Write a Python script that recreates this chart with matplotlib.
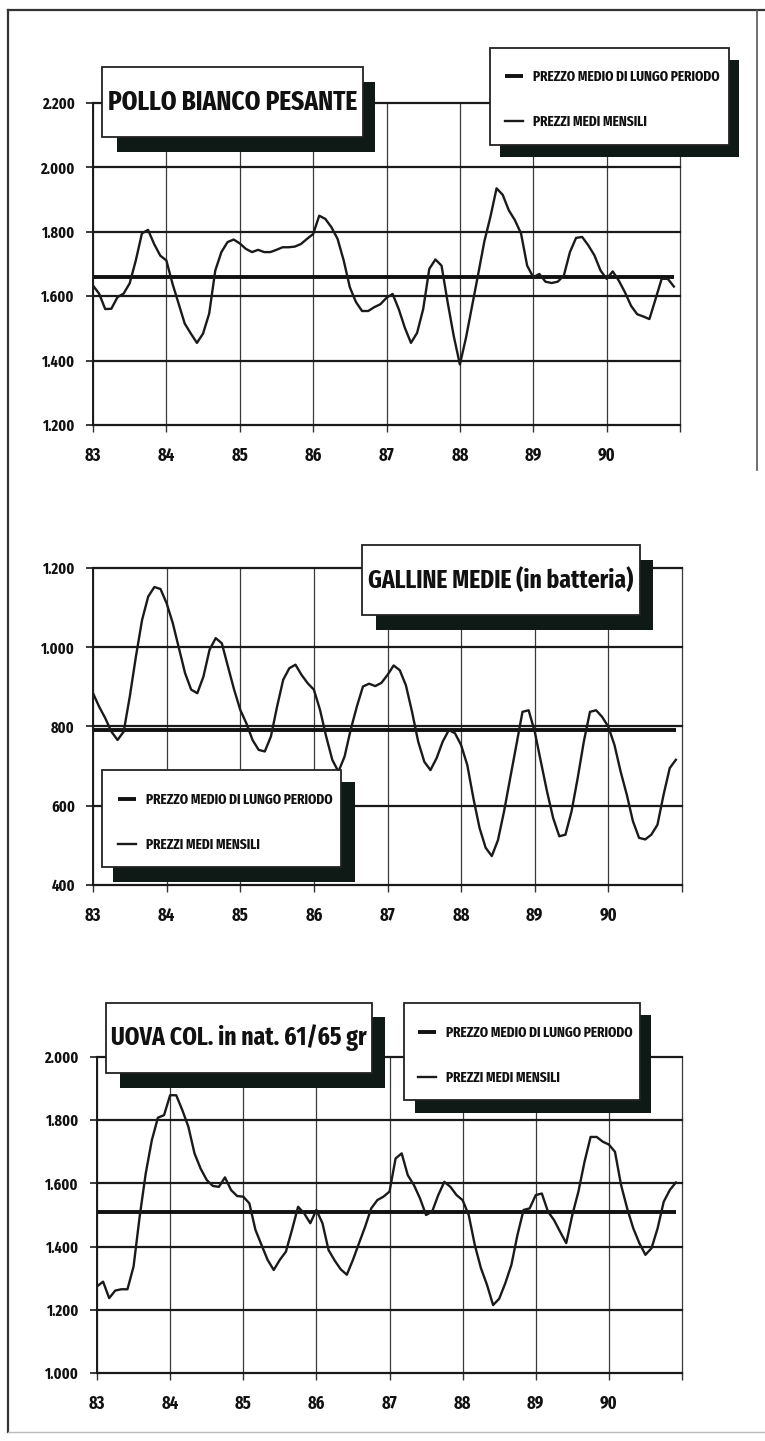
import numpy as np
import matplotlib.pyplot as plt
from matplotlib.patches import Rectangle
from matplotlib.transforms import ScaledTranslation

W, H = 765, 1441
FONT = ['Fira Sans Extra Condensed', 'Barlow Condensed', 'DejaVu Sans']

# monthly prices jan 83 .. dec 90
months = np.arange(96)
x = 83 + months / 12.0
year_ticks = [83, 84, 85, 86, 87, 88, 89, 90, 91]
year_labels = ['83', '84', '85', '86', '87', '88', '89', '90', '']

legend_labels = ['PREZZO MEDIO DI LUNGO PERIODO', 'PREZZI MEDI MENSILI']

pollo_title = 'POLLO BIANCO PESANTE'
pollo = [1633, 1608, 1560, 1561, 1597, 1608, 1640, 1711, 1795, 1806, 1762, 1726,
         1711, 1639, 1577, 1515, 1484, 1455, 1484, 1546, 1680, 1737, 1768, 1776,
         1764, 1747, 1737, 1744, 1737, 1737, 1744, 1752, 1752, 1754, 1762, 1778,
         1793, 1850, 1840, 1814, 1778, 1711, 1628, 1582, 1554, 1554, 1566, 1575,
         1595, 1607, 1560, 1502, 1455, 1486, 1560, 1685, 1714, 1695, 1581, 1476,
         1388, 1471, 1570, 1669, 1770, 1847, 1935, 1915, 1867, 1836, 1795, 1695,
         1659, 1669, 1645, 1641, 1645, 1664, 1737, 1781, 1784, 1758, 1727, 1680,
         1654, 1677, 1648, 1612, 1570, 1544, 1537, 1529, 1591, 1654, 1654, 1630]
pollo_medio = 1660
pollo_yticks = [1200, 1400, 1600, 1800, 2000, 2200]

galline_title = 'GALLINE MEDIE (in batteria)'
galline = [884, 850, 821, 787, 766, 787, 876, 977, 1069, 1128, 1152, 1147,
           1111, 1061, 998, 935, 893, 884, 926, 994, 1023, 1010, 951, 893,
           842, 808, 766, 741, 737, 775, 850, 918, 947, 956, 930, 909,
           893, 842, 775, 716, 686, 724, 792, 850, 901, 908, 902, 910,
           930, 954, 942, 904, 837, 762, 711, 690, 720, 762, 791, 783,
           753, 703, 619, 544, 494, 473, 513, 586, 670, 753, 837, 841,
           787, 711, 636, 569, 523, 527, 586, 670, 762, 837, 841, 824,
           799, 753, 686, 628, 561, 519, 515, 527, 552, 628, 695, 716]
galline_medio = 790
galline_yticks = [400, 600, 800, 1000, 1200]

uova_title = 'UOVA COL. in nat. 61/65 gr'
uova = [1274, 1289, 1237, 1261, 1265, 1265, 1337, 1495, 1632, 1737, 1808, 1816,
        1879, 1879, 1832, 1779, 1695, 1647, 1611, 1592, 1589, 1619, 1579, 1560,
        1558, 1537, 1453, 1405, 1358, 1326, 1358, 1384, 1453, 1526, 1505, 1474,
        1516, 1474, 1389, 1356, 1328, 1311, 1358, 1411, 1463, 1521, 1547, 1558,
        1574, 1679, 1695, 1626, 1595, 1553, 1500, 1511, 1563, 1605, 1589, 1563,
        1547, 1500, 1405, 1332, 1279, 1215, 1235, 1284, 1342, 1437, 1516, 1521,
        1563, 1568, 1511, 1484, 1447, 1411, 1500, 1574, 1668, 1747, 1747, 1732,
        1723, 1700, 1595, 1521, 1458, 1411, 1374, 1395, 1458, 1542, 1579, 1603]
uova_medio = 1510
uova_yticks = [1000, 1200, 1400, 1600, 1800, 2000]


def fx(px):
    return px / W


def fy(py):
    return 1 - py / H


def it_num(v):
    return f'{v:,}'.replace(',', '.')


def measure(text, size):
    t = fig.text(0, 0, text, family=FONT, fontweight='bold', fontsize=size)
    bb = t.get_window_extent(fig.canvas.get_renderer())
    t.remove()
    return bb.width, bb.height


def fit_size(text, width, size=12):
    w, _ = measure(text, size)
    return size * width / w


def panel(rect, vals, medio, yticks):
    l, t, r, b = rect
    ax = fig.add_axes([fx(l), fy(b), (r - l) / W, (b - t) / H])
    ax.set_facecolor('none')
    ax.set_xlim(83, 91)
    ax.set_ylim(yticks[0], yticks[-1])
    for s in ['top', 'right', 'bottom']:
        ax.spines[s].set_visible(False)
    ax.spines['left'].set_color('#1a1a1a')
    ax.spines['left'].set_linewidth(1.4)
    ax.set_yticks(yticks)
    ax.set_yticklabels([it_num(v) for v in yticks], family=FONT,
                       fontweight='bold', fontsize=tick_size, color='#111')
    ax.set_xticks(year_ticks)
    ax.set_xticklabels(year_labels, family=FONT, fontweight='bold',
                       fontsize=tick_size + 1.5, color='#111')
    shift = ScaledTranslation(4 / 100, 0, fig.dpi_scale_trans)
    for lbl in ax.get_xticklabels():
        lbl.set_transform(lbl.get_transform() + shift)
    ax.tick_params(axis='y', direction='out', length=5, width=1.2,
                   color='#1a1a1a', pad=8)
    ax.tick_params(axis='x', direction='out', length=5, width=1,
                   color='#333', pad=11)
    ax.grid(axis='y', color='#1a1a1a', lw=1.6)
    ax.grid(axis='x', color='#3a3a3a', lw=0.9)
    for gl in ax.get_ygridlines() + ax.get_xgridlines():
        gl.set_clip_on(False)
    ax.set_axisbelow(True)
    mean_line = ax.hlines(medio, x[0], x[-1], color='#111', lw=2.8)
    data_line, = ax.plot(x, vals, color='#1a1a1a', lw=1.7)
    return ax, mean_line, data_line


def shadow_box(box, shadow):
    l, t, r, b = shadow
    fig.add_artist(Rectangle((fx(l), fy(b)), (r - l) / W, (b - t) / H,
                             transform=fig.transFigure, fc='#0f1915',
                             ec='none', zorder=3))
    l, t, r, b = box
    fig.add_artist(Rectangle((fx(l), fy(b)), (r - l) / W, (b - t) / H,
                             transform=fig.transFigure, fc='white',
                             ec='#222', lw=1.3, zorder=4))


def title_box(box, shadow, text, width):
    shadow_box(box, shadow)
    l, t, r, b = box
    fig.text(fx((l + r) / 2), fy((t + b) / 2), text, ha='center', va='center',
             family=FONT, fontweight='bold', fontsize=fit_size(text, width),
             color='#111', zorder=5)


def legend_box(box, shadow, handles, anchor):
    shadow_box(box, shadow)
    size_px = leg_size * 100 / 72
    _, row_h = measure(legend_labels[0], leg_size)
    leg = fig.legend(handles, legend_labels, loc='center left',
                     bbox_to_anchor=(fx(anchor[0]), fy(anchor[1])),
                     bbox_transform=fig.transFigure, frameon=False,
                     borderpad=0, borderaxespad=0,
                     handlelength=18 / size_px, handletextpad=10 / size_px,
                     labelspacing=(45 - row_h) / size_px,
                     prop=dict(family=FONT, weight='bold', size=leg_size))
    leg.set_zorder(6)
    for txt in leg.get_texts():
        txt.set_color('#111')


fig = plt.figure(figsize=(W / 100, H / 100), dpi=100)
fig.patch.set_facecolor('white')

tick_size = fit_size('2.200', 33)
leg_size = fit_size(legend_labels[0], 188)

# outer frame of the page
fig.add_artist(plt.Line2D([fx(8), fx(8)], [fy(10), fy(1432)], color='#333', lw=1.6))
fig.add_artist(plt.Line2D([fx(8), fx(765)], [fy(10), fy(10)], color='#333', lw=1.6))
fig.add_artist(plt.Line2D([fx(757), fx(757)], [fy(10), fy(470)], color='#555', lw=1.2))
fig.add_artist(plt.Line2D([fx(8), fx(765)], [fy(1432), fy(1432)], color='#bbb', lw=1.0))

# POLLO
ax1, m1, d1 = panel((93, 103, 680, 425), pollo, pollo_medio, pollo_yticks)
title_box((102, 67, 363, 137), (117, 82, 375, 152), pollo_title, 250)
legend_box((490, 48, 729, 145), (500, 60, 739, 157), [m1, d1], (505, 99.5))

# GALLINE
ax2, m2, d2 = panel((93, 568, 682, 885), galline, galline_medio, galline_yticks)
title_box((362, 545, 640, 615), (376, 560, 653, 630), galline_title, 266)
legend_box((102, 770, 341, 867), (113, 782, 355, 882), [m2, d2], (118, 822.5))

# UOVA
ax3, m3, d3 = panel((97, 1057, 682, 1373), uova, uova_medio, uova_yticks)
title_box((106, 1003, 372, 1073), (120, 1017, 385, 1088), uova_title, 256)
legend_box((404, 1003, 640, 1100), (415, 1015, 651, 1113), [m3, d3], (418, 1055))

fig.savefig('out.png', dpi=100, facecolor='white')
